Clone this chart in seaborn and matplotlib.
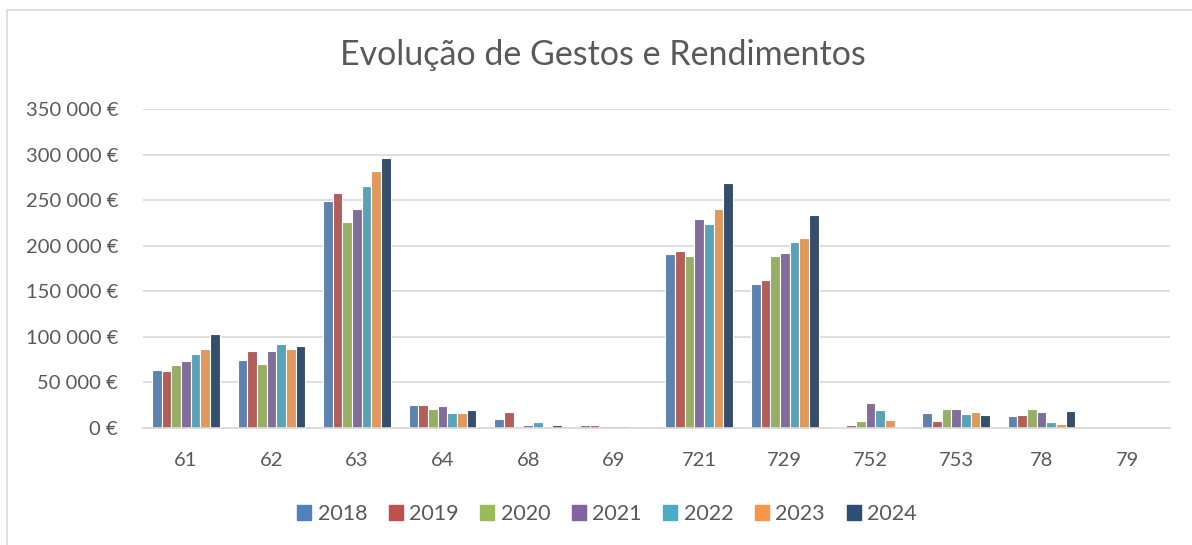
import pandas as pd
import matplotlib.pyplot as plt
import seaborn as sns
from matplotlib.ticker import FuncFormatter
from matplotlib.patches import Rectangle

# ---- data ----
contas = ['61', '62', '63', '64', '68', '69', '721', '729', '752', '753', '78', '79']
anos = ['2018', '2019', '2020', '2021', '2022', '2023', '2024']

v2018 = [63200, 74900, 249100, 25200, 9900, 3300, 191400, 158400, 1500, 16400, 12800, 0]
v2019 = [62100, 84000, 257500, 25200, 17200, 2900, 194300, 162800, 3300, 8000, 14600, 0]
v2020 = [68700, 70500, 225600, 21200, 0, 2600, 188400, 188400, 7300, 20800, 20800, 0]
v2021 = [73400, 84000, 239900, 24500, 3300, 2600, 229100, 191700, 27700, 20400, 17900, 0]
v2022 = [81500, 91700, 265200, 16400, 6900, 1800, 223600, 203800, 20100, 15300, 6200, 0]
v2023 = [86600, 86600, 282100, 16400, 0, 0, 240100, 208600, 8400, 17500, 4000, 0]
v2024 = [102700, 89900, 296300, 19300, 3300, 0, 268700, 233500, 1500, 14200, 19000, 0]

cores = ['#4F81BD', '#C0504D', '#9BBB59', '#8064A2', '#4BACC6', '#F79646', '#2C4D75']

series = [v2018, v2019, v2020, v2021, v2022, v2023, v2024]
rows = []
for ano, vals in zip(anos, series):
    for conta, v in zip(contas, vals):
        rows.append({'Conta': conta, 'Ano': ano, 'Valor': v})
df = pd.DataFrame(rows)

# ---- plot ----
sns.set_theme(style='white')
plt.rcParams['font.family'] = ['Lato', 'DejaVu Sans']
txt = '#595959'
grid = '#D9D9D9'

fig = plt.figure(figsize=(11.92, 5.45), dpi=100)
ax = fig.add_axes([143 / 1192, 1 - 428 / 545, (1170 - 143) / 1192, (428 - 109) / 545])

sns.barplot(data=df, x='Conta', y='Valor', hue='Ano', order=contas, hue_order=anos,
            palette=cores, width=0.79, errorbar=None, edgecolor='white',
            linewidth=0.8, ax=ax)

ax.set_ylim(0, 350000)
ax.set_yticks(range(0, 350001, 50000))
ax.yaxis.set_major_formatter(FuncFormatter(lambda v, p: f'{int(v):,} €'.replace(',', ' ')))
ax.set_xlim(-0.5, len(contas) - 0.5)
ax.set_axisbelow(True)
ax.yaxis.grid(True, color=grid, linewidth=1.2)
for s in ['top', 'right', 'left']:
    ax.spines[s].set_visible(False)
ax.spines['bottom'].set_color(grid)
ax.spines['bottom'].set_linewidth(1.2)
ax.tick_params(axis='both', length=0, labelsize=14.5, colors=txt)
ax.tick_params(axis='y', pad=18)
ax.tick_params(axis='x', pad=17)
ax.set_xlabel('')
ax.set_ylabel('')

fig.suptitle('Evolução de Gestos e Rendimentos', x=603 / 1192, y=1 - 55 / 545,
             va='center', fontsize=24.5, color=txt)

ax.get_legend().remove()
handles = [Rectangle((0, 0), 1, 1, color=c) for c in cores]
fig.legend(handles, anos, loc='center', ncol=7, frameon=False,
           bbox_to_anchor=(607 / 1192, 1 - 514 / 545), fontsize=15.5,
           handlelength=0.65, handleheight=0.65, handletextpad=0.3,
           columnspacing=1.0, labelcolor=txt)

# outer chart border (clipped at right/bottom as in the original)
fig.patches.append(Rectangle((7 / 1192, -0.1), 1.2, 1 - 10 / 545 + 0.1,
                             transform=fig.transFigure, fill=False,
                             edgecolor=grid, linewidth=1.2))

fig.savefig('out.png', dpi=100)
